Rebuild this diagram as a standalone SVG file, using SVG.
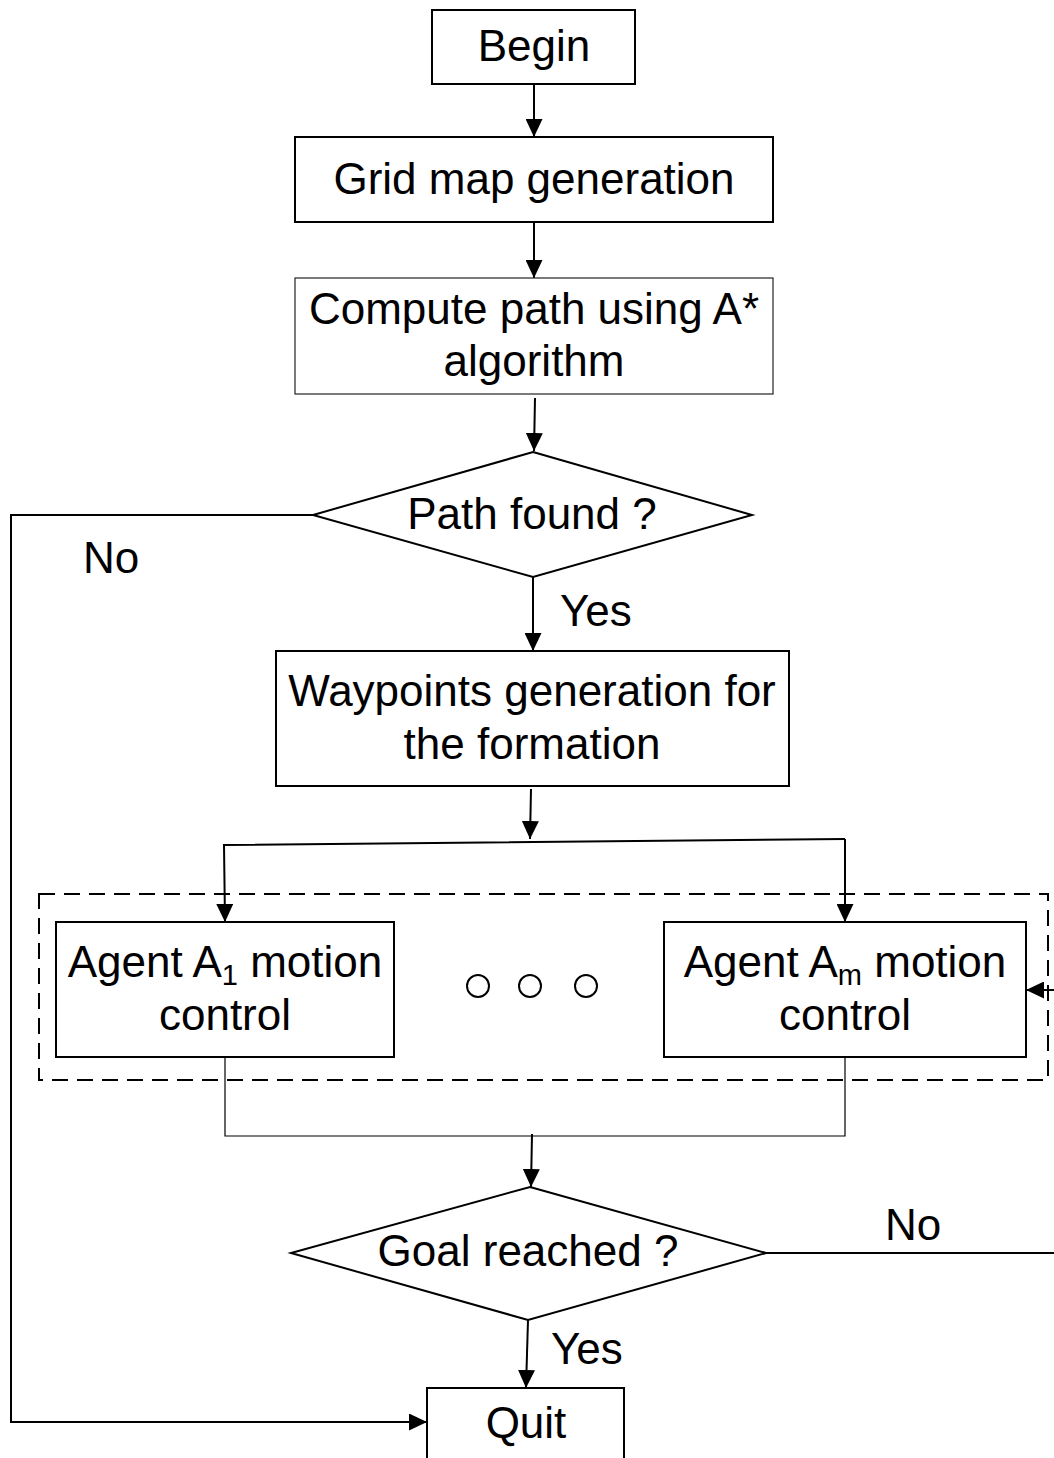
<svg xmlns="http://www.w3.org/2000/svg" width="1054" height="1458" viewBox="0 0 1054 1458">
<style>
.box{fill:#fff;stroke:#000;stroke-width:2}
.thinbox{fill:#fff;stroke:#222;stroke-width:1.2}
.t{font-family:"Liberation Sans",Arial,sans-serif;font-size:44px;fill:#000;text-anchor:middle}
.lbl{font-family:"Liberation Sans",Arial,sans-serif;font-size:44px;fill:#000}
.c{fill:none;stroke:#000;stroke-width:2}
.thin{fill:none;stroke:#000;stroke-width:1.2}
.arr{marker-end:url(#ah)}
.dash{fill:none;stroke:#000;stroke-width:2;stroke-dasharray:16 9}
.dot{fill:#fff;stroke:#000;stroke-width:2}
</style>
<defs>
<marker id="ah" viewBox="0 0 18 17" refX="18" refY="8.5" markerWidth="18" markerHeight="17" markerUnits="userSpaceOnUse" orient="auto">
<path d="M0,0 L18,8.5 L0,17 z" fill="#000"/>
</marker>
</defs>
<rect width="1054" height="1458" fill="#fff"/>

<g id="group-agents">
<rect class="dash" x="39" y="894" width="1009" height="186"/>
</g>

<g id="connectors">
<line class="c arr" x1="534" y1="84" x2="534" y2="137"/>
<line class="c arr" x1="534" y1="222" x2="534" y2="278"/>
<line class="c arr" x1="535" y1="398" x2="534" y2="451"/>
<line class="c arr" x1="533" y1="577" x2="533" y2="651"/>
<polyline class="c arr" points="313,515 11,515 11,1422 427,1422"/>
<line class="c arr" x1="531" y1="789" x2="530" y2="839"/>
<polyline class="c arr" points="845,839 845,922"/>
<polyline class="c arr" points="845,839 224,845 225,922"/>
<polyline class="thin" points="225,1057 225,1136 845,1136 845,1057"/>
<line class="c arr" x1="532" y1="1134" x2="531" y2="1187"/>
<line class="c" x1="766" y1="1253" x2="1054" y2="1253"/>
<line class="c arr" x1="1060" y1="990" x2="1026" y2="990"/>
<line class="c arr" x1="528" y1="1320" x2="526" y2="1388"/>
</g>

<g id="labels">
<text class="lbl" x="83" y="573">No</text>
<text class="lbl" x="560" y="626">Yes</text>
<text class="lbl" x="885" y="1240">No</text>
<text class="lbl" x="551" y="1364">Yes</text>
</g>

<g id="begin">
<rect class="box" x="432" y="10" width="203" height="74"/>
<text class="t" x="534" y="61">Begin</text>
</g>

<g id="grid">
<rect class="box" x="295" y="137" width="478" height="85"/>
<text class="t" x="534" y="194">Grid map generation</text>
</g>

<g id="compute">
<rect class="thinbox" x="295" y="278" width="478" height="116"/>
<text class="t" x="534" y="324">Compute path using A*</text>
<text class="t" x="534" y="376">algorithm</text>
</g>

<g id="path-found">
<polygon class="box" points="533,452 752,515 533,577 313,515"/>
<text class="t" x="532" y="529">Path found ?</text>
</g>

<g id="waypoints">
<rect class="box" x="276" y="651" width="513" height="135"/>
<text class="t" x="532" y="706">Waypoints generation for</text>
<text class="t" x="532" y="759">the formation</text>
</g>

<g id="agent1">
<rect class="box" x="56" y="922" width="338" height="135"/>
<text class="t" x="225" y="977">Agent A<tspan font-size="29" dy="8">1</tspan><tspan dy="-8"> motion</tspan></text>
<text class="t" x="225" y="1030">control</text>
</g>

<g id="dots">
<circle class="dot" cx="478" cy="986" r="11"/>
<circle class="dot" cx="530" cy="986" r="11"/>
<circle class="dot" cx="586" cy="986" r="11"/>
</g>

<g id="agentm">
<rect class="box" x="664" y="922" width="362" height="135"/>
<text class="t" x="845" y="977">Agent A<tspan font-size="29" dy="8">m</tspan><tspan dy="-8"> motion</tspan></text>
<text class="t" x="845" y="1030">control</text>
</g>

<g id="goal">
<polygon class="box" points="530,1187 766,1253 528,1320 291,1253"/>
<text class="t" x="528" y="1266">Goal reached ?</text>
</g>

<g id="quit">
<rect class="box" x="427" y="1388" width="197" height="100"/>
<text class="t" x="526" y="1438">Quit</text>
</g>
</svg>
